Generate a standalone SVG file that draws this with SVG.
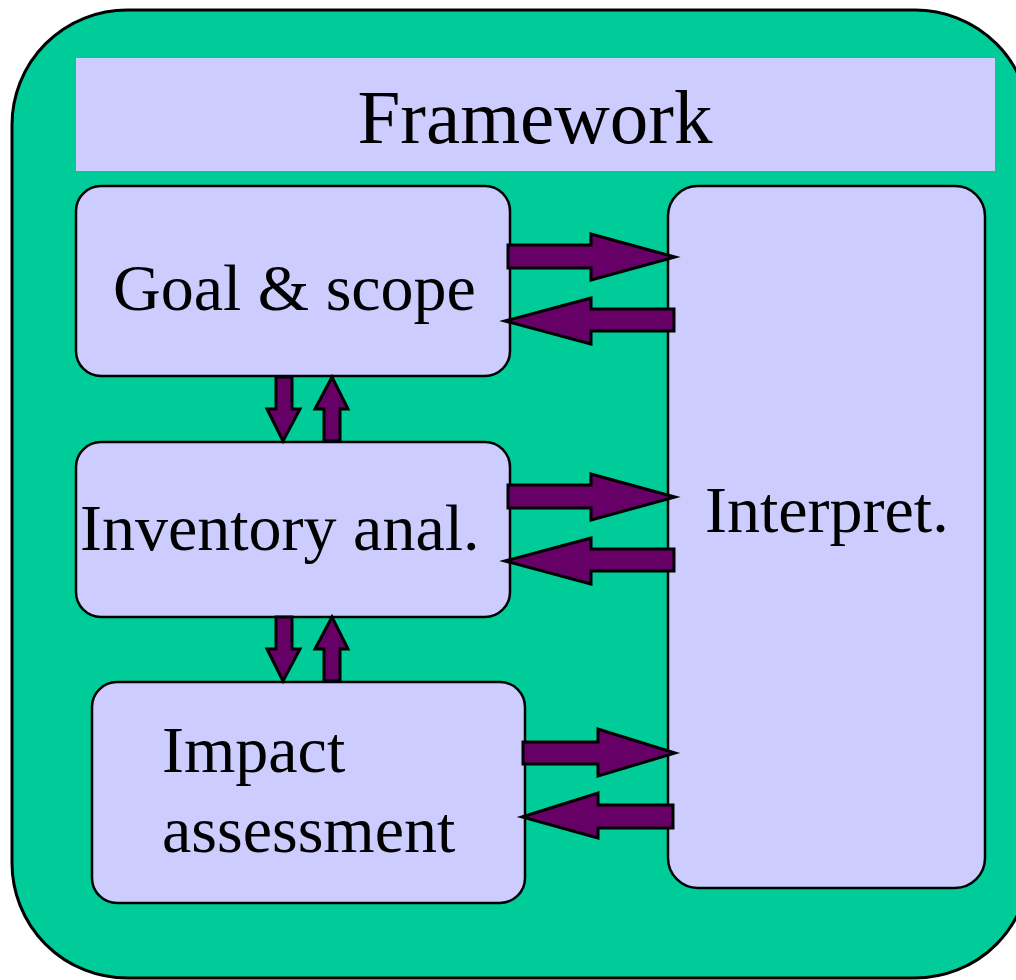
<svg xmlns="http://www.w3.org/2000/svg" width="1016" height="980" viewBox="0 0 1016 980">
<style>
.box{fill:#CCCCFF;stroke:#000;stroke-width:2.5}
.arr{fill:#660066;stroke:#000;stroke-width:3;stroke-linejoin:miter}
.t{font-family:"Liberation Serif","Times New Roman",serif;font-size:66px;fill:#000}
</style>
<rect x="0" y="0" width="1016" height="980" fill="#fff"/>
<g id="frame">
<rect x="12" y="10" width="1018" height="968" rx="115" ry="115" fill="#00CC99" stroke="#000" stroke-width="3"/>
</g>
<g id="header">
<rect x="76" y="58" width="919" height="113" fill="#CCCCFF"/>
<text class="t" x="535" y="143" text-anchor="middle" style="font-size:77px">Framework</text>
</g>
<g id="goal">
<rect class="box" x="76" y="186" width="434" height="190" rx="25"/>
<text class="t" x="113" y="310">Goal &amp; scope</text>
</g>
<g id="inventory">
<rect class="box" x="76" y="442" width="434" height="175" rx="25"/>
<text class="t" x="80" y="550">Inventory anal.</text>
</g>
<g id="impact">
<rect class="box" x="92" y="682" width="433" height="221" rx="25"/>
<text class="t" x="162" y="772">Impact</text>
<text class="t" x="162" y="852">assessment</text>
</g>
<g id="interpret">
<rect class="box" x="668" y="186" width="317" height="702" rx="30"/>
<text class="t" x="705" y="532">Interpret.</text>
</g>
<g id="connectors">
<polygon class="arr" points="508,245 591,245 591,234 675,257 591,280 591,268 508,268"/>
<polygon class="arr" points="674,309 591,309 591,298 505,321 591,344 591,331 674,331"/>
<polygon class="arr" points="508,485 591,485 591,474 675,497 591,520 591,508 508,508"/>
<polygon class="arr" points="674,549 591,549 591,538 505,561 591,584 591,571 674,571"/>
<polygon class="arr" points="523,742 598,742 598,729 675,753 598,776 598,764 523,764"/>
<polygon class="arr" points="673,805 598,805 598,793 522,817 598,838 598,828 673,828"/>
<polygon class="arr" points="276,377 292,377 292,409 300,409 283,441 267,409 276,409"/>
<polygon class="arr" points="324,441 340,441 340,409 348,409 332,377 315,409 324,409"/>
<polygon class="arr" points="276,617 292,617 292,649 300,649 283,681 267,649 276,649"/>
<polygon class="arr" points="324,681 340,681 340,649 348,649 332,617 315,649 324,649"/>
</g>
</svg>
